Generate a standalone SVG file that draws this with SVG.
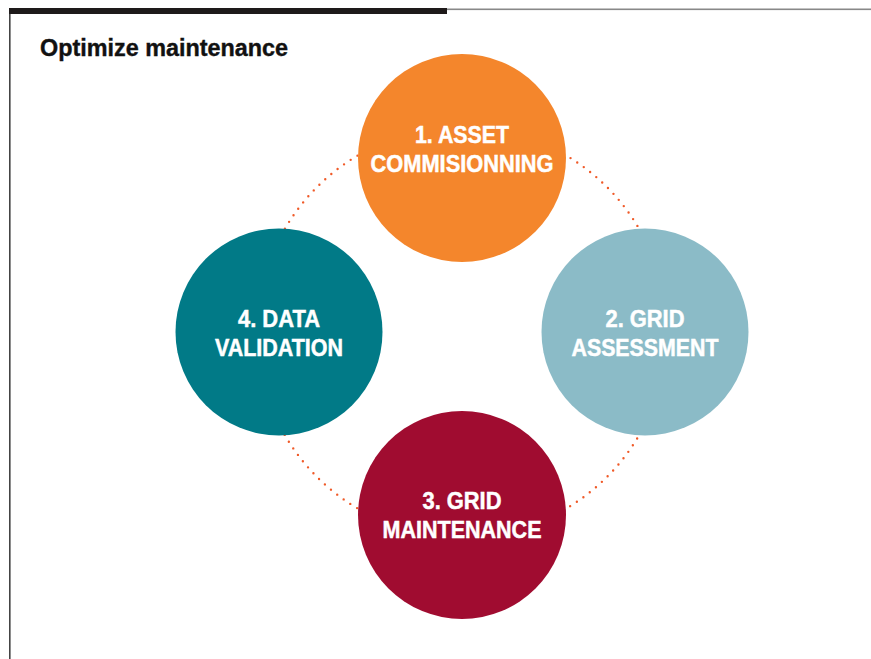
<svg xmlns="http://www.w3.org/2000/svg" width="871" height="659" viewBox="0 0 871 659">
<style>
.lbl{font-family:"Liberation Sans Narrow","Liberation Sans",Arial,sans-serif;font-weight:bold;font-size:24px;fill:#ffffff;stroke:#ffffff;stroke-width:0.5;text-anchor:middle}
.title{font-family:"Liberation Sans Narrow","Liberation Sans",Arial,sans-serif;font-weight:bold;font-size:24px;fill:#111111;stroke:#111111;stroke-width:0.4}
</style>
<rect width="871" height="659" fill="#ffffff"/>
<g id="frame">
<rect x="9" y="8" width="438" height="6" fill="#1e1a1a"/>
<rect x="447" y="8.5" width="424" height="1.6" fill="#888888"/>
<rect x="9" y="14" width="1.6" height="645" fill="#444444"/>
<text class="title" x="40" y="56" textLength="248" lengthAdjust="spacingAndGlyphs">Optimize maintenance</text>
</g>
<g id="connectors">
<circle cx="462" cy="332" r="205" fill="none" stroke="#F05A28" stroke-width="2.4" stroke-linecap="round" stroke-dasharray="0 8"/>
</g>
<g id="node1">
<circle cx="462" cy="158" r="104" fill="#F4862C"/>
<text class="lbl" x="462" y="143" textLength="94" lengthAdjust="spacingAndGlyphs">1. ASSET</text>
<text class="lbl" x="462" y="172" textLength="183" lengthAdjust="spacingAndGlyphs">COMMISIONNING</text>
</g>
<g id="node2">
<circle cx="645" cy="332" r="103.5" fill="#8BBBC7"/>
<text class="lbl" x="645" y="327" textLength="79" lengthAdjust="spacingAndGlyphs">2. GRID</text>
<text class="lbl" x="645" y="356" textLength="147" lengthAdjust="spacingAndGlyphs">ASSESSMENT</text>
</g>
<g id="node3">
<circle cx="462" cy="515" r="104" fill="#A00C30"/>
<text class="lbl" x="462" y="509" textLength="79" lengthAdjust="spacingAndGlyphs">3. GRID</text>
<text class="lbl" x="462" y="538" textLength="159" lengthAdjust="spacingAndGlyphs">MAINTENANCE</text>
</g>
<g id="node4">
<circle cx="279" cy="332" r="103.5" fill="#017A87"/>
<text class="lbl" x="279" y="327" textLength="82" lengthAdjust="spacingAndGlyphs">4. DATA</text>
<text class="lbl" x="279" y="356" textLength="128" lengthAdjust="spacingAndGlyphs">VALIDATION</text>
</g>
</svg>
